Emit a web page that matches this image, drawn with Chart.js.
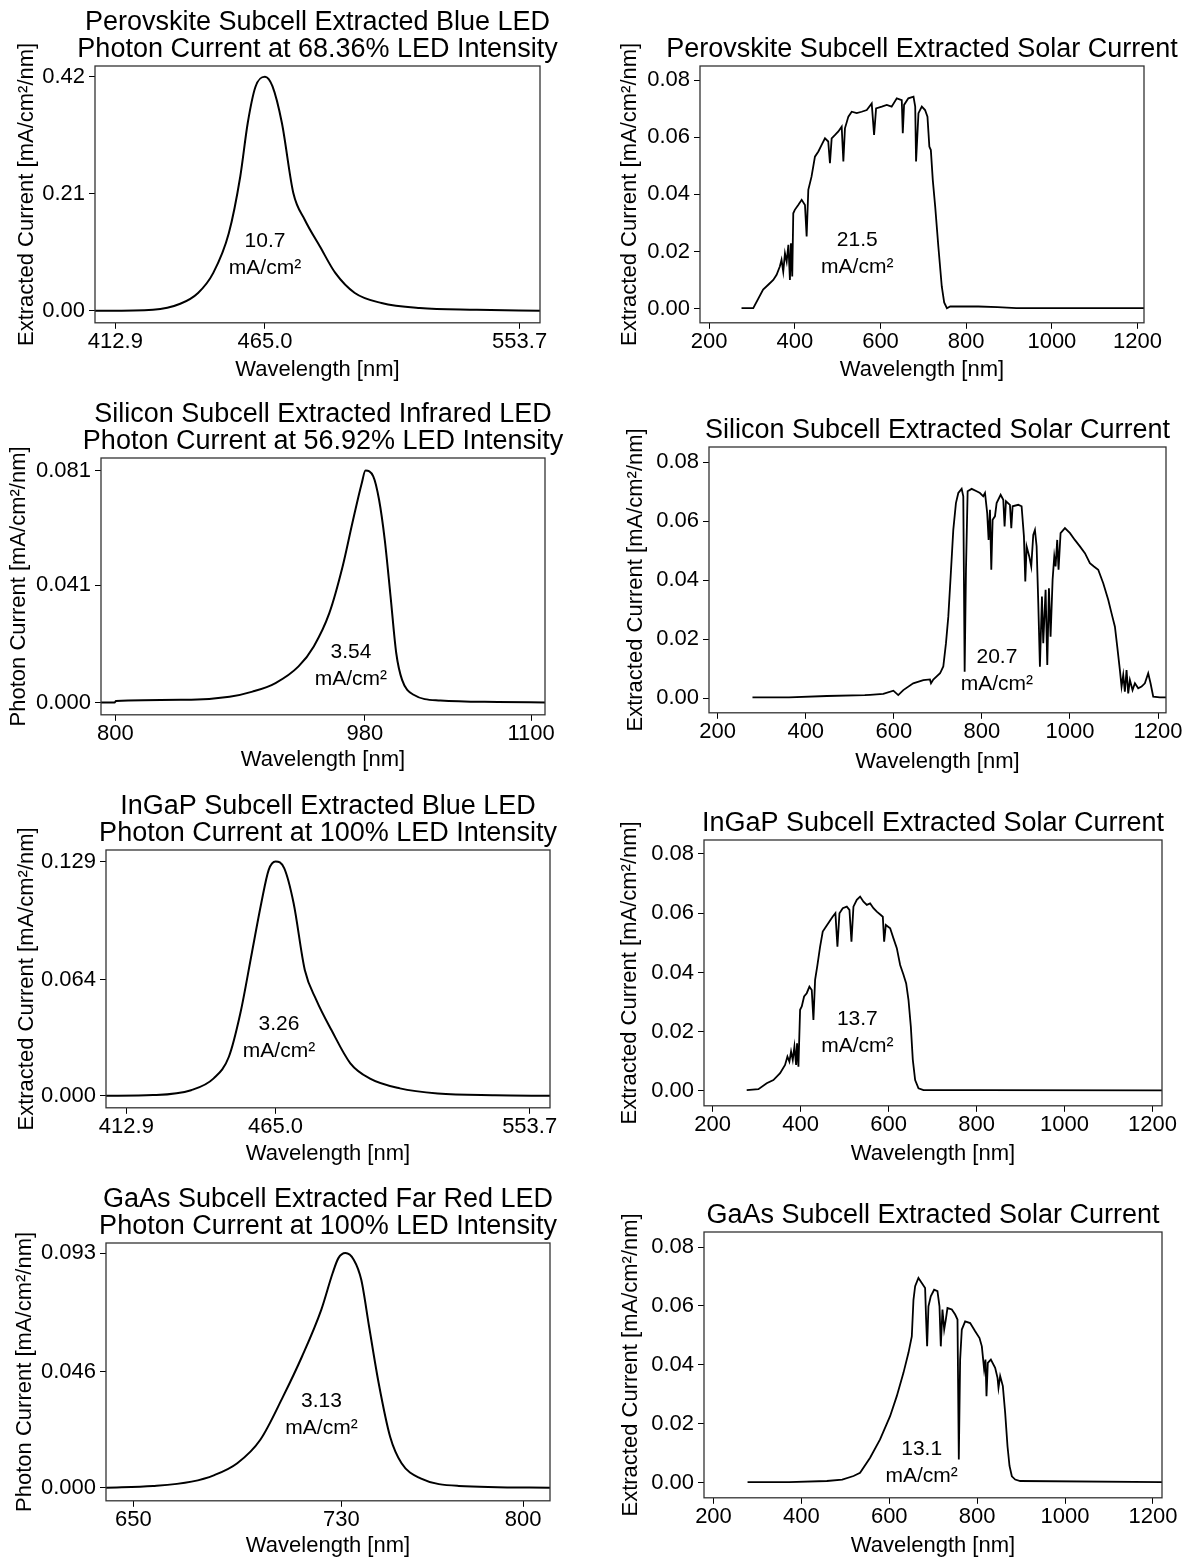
<!DOCTYPE html>
<html>
<head>
<meta charset="utf-8">
<script src="https://cdn.jsdelivr.net/npm/chart.js@4.4.0/dist/chart.umd.min.js"></script>
<style>
  html, body { margin: 0; padding: 0; background: #fff; overflow: hidden; }
  #page { position: relative; width: 1193px; height: 1557px; overflow: hidden; background: #fff; }
  #page canvas { position: absolute; }
</style>
</head>
<body>
<div id="page"></div>
<script>
// ---- data (wavelength in nm, current in mA/cm²/nm) ----
const perovLedWl = [405.8, 426, 435.5, 441.7, 447.0, 452.4, 456.4, 459.0, 461.7, 465.0, 467.6, 470.9, 474.9, 478.9, 484.2, 489.5, 496.3, 505.6, 518.9, 538.8, 560.8];
const perovLedCur = [0, 0.002, 0.0126, 0.032, 0.068, 0.139, 0.241, 0.337, 0.402, 0.42, 0.403, 0.337, 0.211, 0.163, 0.115, 0.068, 0.032, 0.014, 0.005, 0.002, 0];

const perovSolarWl = [275.6, 303, 326, 338, 349.7, 357.5, 365, 369, 373, 377, 381, 385, 388.6, 391, 394, 396.4, 400, 408, 416, 423.7,
  427.6, 431.5, 439, 447, 455, 462.6, 470.4, 478, 482, 486, 494, 501.6, 509.4, 513.3, 517, 525, 532.8, 544.5, 556, 568,
  579.5, 585, 589.7, 603, 614.6, 626, 638, 649.6, 652, 655, 665, 677, 681, 683, 688.6, 696.4, 704, 709.6, 714, 717.5,
  722, 727.6, 735, 743, 748.6, 755, 762.6, 828.6, 873, 917, 1215];
const perovSolarCur = [0.0002, 0.0002, 0.0067, 0.0084, 0.0101, 0.0119, 0.0148, 0.0171, 0.013, 0.0194, 0.0165, 0.0224, 0.0101, 0.0229, 0.0113, 0.0334, 0.0346, 0.0363, 0.0381, 0.0363,
  0.0253, 0.0416, 0.0462, 0.0532, 0.055, 0.0573, 0.0596, 0.0585, 0.0509, 0.0596, 0.0608, 0.062, 0.0637, 0.0515, 0.0631, 0.0672, 0.0689, 0.0684, 0.0689, 0.0695,
  0.0718, 0.0608, 0.0701, 0.0707, 0.0713, 0.0707, 0.0736, 0.073, 0.0614, 0.0713, 0.0736, 0.0742, 0.0707, 0.0515, 0.0684, 0.0707, 0.0695, 0.0672, 0.0567, 0.0555,
  0.0451, 0.0358, 0.0218, 0.0078, 0.0022, 0.0002, 0.0008, 0.0008, 0.0006, 0.0002, 0.0002];

const siliconLedWl = [789.7, 799.5, 800.5, 854.8, 882.4, 899, 915.6, 932.2, 943.2, 954.4, 964, 971, 977.8, 980.5, 986.1, 990.3, 994.4, 998.6, 1002.7, 1006.9, 1015.2, 1034.5, 1076, 1110];
const siliconLedCur = [0, 0, 0.0005, 0.001, 0.002, 0.0038, 0.0068, 0.0126, 0.0196, 0.0312, 0.0475, 0.0626, 0.0766, 0.081, 0.079, 0.0708, 0.0568, 0.037, 0.0172, 0.0079, 0.0027, 0.0007, 0.0002, 0];

const siliconSolarWl = [279, 362, 448, 534, 546, 576, 599, 610, 621.5, 644, 667, 682, 684.4, 689.6, 705, 712.3, 718.4, 723.7, 729, 735,
  741, 746.4, 754, 757.7, 760.8, 763.8, 767.6, 776.7, 788, 795.6, 803, 807, 812, 815.2, 818.3, 821.3, 824.3, 829.6, 833.4, 842.5,
  848.5, 851.5, 854.6, 863.6, 866.7, 869.7, 882.6, 890.1, 895.4, 898.5, 901.5, 907.5, 912, 916.6, 920.4, 924.2, 928, 931.7, 936.3, 939.3,
  944.6, 948.4, 952.2, 955.9, 960.5, 964.3, 967.3, 971, 974, 978.6, 988.5, 1000, 1011, 1022.5, 1033.9, 1045.2, 1054.3, 1064.1, 1075.5, 1086.8,
  1094.4, 1102, 1107.3, 1113.3, 1117.1, 1120.9, 1124.6, 1128.4, 1132.2, 1136, 1142, 1147.4, 1154.9, 1162.5, 1170, 1177.6, 1182.9, 1189, 1204, 1219];
const siliconSolarCur = [0.0003, 0.0003, 0.0008, 0.0011, 0.0012, 0.0015, 0.0026, 0.0011, 0.0028, 0.0051, 0.0062, 0.0064, 0.0051, 0.0064, 0.0085, 0.0108, 0.0187, 0.0277, 0.0413, 0.0571,
  0.0662, 0.0696, 0.071, 0.0685, 0.009, 0.0436, 0.0702, 0.071, 0.0702, 0.0696, 0.0685, 0.0696, 0.0628, 0.0537, 0.0639, 0.0436, 0.0605, 0.0617, 0.0662, 0.069,
  0.0673, 0.0583, 0.0668, 0.0656, 0.0577, 0.0651, 0.0656, 0.0651, 0.0549, 0.0396, 0.0515, 0.0481, 0.0447, 0.0554, 0.0571, 0.0515, 0.0322, 0.0107, 0.0345, 0.0187,
  0.0368, 0.0113, 0.0373, 0.0209, 0.0402, 0.0481, 0.0447, 0.0537, 0.0436, 0.056, 0.0577, 0.056, 0.0537, 0.0515, 0.0492, 0.0458, 0.0447, 0.0436, 0.039, 0.0334,
  0.0288, 0.0243, 0.0175, 0.0096, 0.004, 0.0079, 0.0023, 0.0096, 0.0017, 0.0062, 0.0028, 0.0051, 0.0034, 0.004, 0.0051, 0.0085, 0.0051, 0.0006, 0.0003, 0.0003];

const ingapLedWl = [405.8, 422.2, 435.5, 443.4, 448.7, 452.7, 456.7, 460, 462.6, 465, 468, 471.3, 475.2, 479.2, 484.5, 491.1, 497.8, 508.4, 521.6, 541.6, 560.8];
const ingapLedCur = [0, 0.0004, 0.0031, 0.0096, 0.0215, 0.0454, 0.0785, 0.106, 0.1244, 0.129, 0.1253, 0.106, 0.0693, 0.0528, 0.0362, 0.0179, 0.0096, 0.0041, 0.0013, 0.0003, 0];

const ingapSolarWl = [277.3, 303.9, 322.8, 338, 353.2, 364.5, 369.9, 374.4, 378.2, 382, 385.8, 389.6, 391.8, 394.9, 398.7, 402.5, 407.8, 413.8, 419.9, 425.2,
  429, 432.8, 438.1, 444.2, 450.2, 457.8, 465.4, 473, 479, 483.6, 488.2, 495.7, 504.9, 510.9, 515.5, 520, 527.6, 535.2, 542.8, 550.4,
  558, 565.5, 573.1, 582.2, 586.8, 589.8, 593.6, 603.5, 611, 618.6, 626.2, 633.8, 639.9, 645.2, 650.5, 655, 660.3, 667.9, 679.3, 804, 1221.5];
const ingapSolarCur = [0.0003, 0.0006, 0.0026, 0.0037, 0.006, 0.0088, 0.0116, 0.0099, 0.0133, 0.0105, 0.015, 0.0088, 0.0161, 0.0082, 0.0274, 0.0285, 0.0319, 0.033, 0.0352, 0.0341,
  0.024, 0.0375, 0.0425, 0.0487, 0.0538, 0.0555, 0.0572, 0.0589, 0.06, 0.0487, 0.06, 0.0617, 0.0622, 0.0611, 0.0504, 0.0622, 0.0645, 0.0656, 0.0639, 0.0628,
  0.0633, 0.0617, 0.0605, 0.0594, 0.0588, 0.0504, 0.056, 0.0549, 0.0515, 0.0482, 0.0425, 0.0392, 0.0363, 0.0307, 0.0217, 0.0105, 0.0037, 0.0009, 0.0003, 0.0003, 0.0002];

const gaasLedWl = [639.5, 657.6, 672.4, 681.2, 690, 698.8, 707.6, 714.9, 722.3, 726.7, 728.9, 731.6, 734.8, 737.7, 740.7, 744.4, 748.8, 753.2, 760.5, 775.2, 810.3];
const gaasLedCur = [0, 0.0007, 0.0024, 0.005, 0.0097, 0.0189, 0.0361, 0.052, 0.0705, 0.0851, 0.091, 0.093, 0.0904, 0.0824, 0.0639, 0.0414, 0.0202, 0.0097, 0.0037, 0.0007, 0];

const gaasSolarWl = [277.5, 372, 458, 493, 518.7, 533.6, 556.4, 579.1, 601.9, 617.1, 632.3, 643.7, 651.3, 655.1, 658.9, 666.4, 674, 681.6, 683.9, 686.2,
  689.2, 694.5, 702.1, 709.7, 714.3, 717.3, 721.1, 725, 728.7, 732.5, 742.4, 750, 755.3, 758.3, 761.3, 765.1, 772.7, 784.1, 795.5, 805.4,
  810.7, 816, 819, 821.3, 824.3, 831.2, 841, 846.4, 848.6, 852.4, 858.5, 863.8, 869.1, 873.7, 879, 886.6, 898, 1220.7];
const gaasSolarCur = [0.0002, 0.0002, 0.0006, 0.0011, 0.0023, 0.0034, 0.0085, 0.0147, 0.0226, 0.0294, 0.0373, 0.0441, 0.0497, 0.0621, 0.0667, 0.0695, 0.0678, 0.0661, 0.0554, 0.0463,
  0.0599, 0.0633, 0.0655, 0.065, 0.0599, 0.0463, 0.0588, 0.052, 0.0554, 0.0593, 0.0588, 0.0571, 0.0554, 0.0079, 0.0418, 0.052, 0.0548, 0.0542, 0.0514, 0.0491,
  0.0463, 0.0384, 0.0418, 0.0294, 0.0407, 0.0418, 0.039, 0.0356, 0.0322, 0.0362, 0.0328, 0.0237, 0.0124, 0.0057, 0.0022, 0.0011, 0.0006, 0.0002];

// tick labels
const blueLedXTicks = [412.9, 465.0, 553.7];
const irLedXTicks = [800, 980, 1100];
const farRedLedXTicks = [650, 730, 800];
const solarXTicks = [200, 400, 600, 800, 1000, 1200];
const perovLedYTicks = [0, 0.21, 0.42];
const siliconLedYTicks = [0, 0.041, 0.081];
const ingapLedYTicks = [0, 0.064, 0.129];
const gaasLedYTicks = [0, 0.046, 0.093];
const solarYTicks = [0, 0.02, 0.04, 0.06, 0.08];

const FONT = "'Liberation Sans', Arial, Helvetica, sans-serif";
const LW = 100;   // room for y ticks + y title
const TP = 66;    // room for the panel title
const RP = 45;    // right margin so edge tick labels fit

Chart.defaults.font.family = FONT;
Chart.defaults.color = '#000';

const extracted = 'Extracted Current [mA/cm²/nm]';
const photon = 'Photon Current [mA/cm²/nm]';

const panels = [
  { box: [95, 66, 540, 323], title: ['Perovskite Subcell Extracted Blue LED', 'Photon Current at 68.36% LED Intensity'],
    yLabel: extracted, wl: perovLedWl, cur: perovLedCur, smooth: true,
    xMin: 405.8, xMax: 560.8, yMin: -0.0215, yMax: 0.4392, xTicks: blueLedXTicks, xDec: 1, yTicks: perovLedYTicks, yDec: 2,
    note: '10.7', noteAt: [465, 0.101], yGap: 68, xGap: 47 },
  { box: [700, 66, 1144, 323], title: ['Perovskite Subcell Extracted Solar Current'],
    yLabel: extracted, wl: perovSolarWl, cur: perovSolarCur, smooth: false,
    xMin: 178.7, xMax: 1215, yMin: -0.0049, yMax: 0.0849, xTicks: solarXTicks, xDec: 0, yTicks: solarYTicks, yDec: 2,
    note: '21.5', noteAt: [545.7, 0.0193], yGap: 70, xGap: 47 },
  { box: [101, 458, 545, 715], title: ['Silicon Subcell Extracted Infrared LED', 'Photon Current at 56.92% LED Intensity'],
    yLabel: photon, wl: siliconLedWl, cur: siliconLedCur, smooth: true,
    xMin: 789.7, xMax: 1110, yMin: -0.0043, yMax: 0.0854, xTicks: irLedXTicks, xDec: 0, yTicks: siliconLedYTicks, yDec: 3,
    note: '3.54', noteAt: [970, 0.0129], yGap: 82, xGap: 45 },
  { box: [709, 447, 1166, 713], title: ['Silicon Subcell Extracted Solar Current'],
    yLabel: extracted, wl: siliconSolarWl, cur: siliconSolarCur, smooth: false,
    xMin: 180.3, xMax: 1218, yMin: -0.0049, yMax: 0.0852, xTicks: solarXTicks, xDec: 0, yTicks: solarYTicks, yDec: 2,
    note: '20.7', noteAt: [834, 0.0093], yGap: 73, xGap: 49 },
  { box: [106, 850, 550, 1108], title: ['InGaP Subcell Extracted Blue LED', 'Photon Current at 100% LED Intensity'],
    yLabel: extracted, wl: ingapLedWl, cur: ingapLedCur, smooth: true,
    xMin: 405.8, xMax: 560.8, yMin: -0.0066, yMax: 0.1353, xTicks: blueLedXTicks, xDec: 1, yTicks: ingapLedYTicks, yDec: 3,
    note: '3.26', noteAt: [466.2, 0.0318], yGap: 79, xGap: 46 },
  { box: [704, 840, 1162, 1106], title: ['InGaP Subcell Extracted Solar Current'],
    yLabel: extracted, wl: ingapSolarWl, cur: ingapSolarCur, smooth: false,
    xMin: 180.2, xMax: 1221.6, yMin: -0.005, yMax: 0.0847, xTicks: solarXTicks, xDec: 0, yTicks: solarYTicks, yDec: 2,
    note: '13.7', noteAt: [528.8, 0.0195], yGap: 74, xGap: 48 },
  { box: [106, 1243, 550, 1501], title: ['GaAs Subcell Extracted Far Red LED', 'Photon Current at 100% LED Intensity'],
    yLabel: photon, wl: gaasLedWl, cur: gaasLedCur, smooth: true,
    xMin: 639.5, xMax: 810.3, yMin: -0.0052, yMax: 0.097, xTicks: farRedLedXTicks, xDec: 0, yTicks: gaasLedYTicks, yDec: 3,
    note: '3.13', noteAt: [722.4, 0.0288], yGap: 81, xGap: 45 },
  { box: [704, 1232, 1162, 1498], title: ['GaAs Subcell Extracted Solar Current'],
    yLabel: extracted, wl: gaasSolarWl, cur: gaasSolarCur, smooth: false,
    xMin: 178.4, xMax: 1220.7, yMin: -0.0051, yMax: 0.0851, xTicks: solarXTicks, xDec: 0, yTicks: solarYTicks, yDec: 2,
    note: '13.1', noteAt: [673.7, 0.0068], yGap: 73, xGap: 48 }
];

function decorations(p) {
  return {
    id: 'decorations',
    afterDraw(chart) {
      const { ctx, chartArea: a, scales } = chart;
      ctx.save();
      // axes frame
      ctx.strokeStyle = '#333';
      ctx.lineWidth = 1.3;
      ctx.strokeRect(a.left, a.top, a.right - a.left, a.bottom - a.top);
      // panel title
      ctx.fillStyle = '#000';
      ctx.textAlign = 'center';
      ctx.textBaseline = 'alphabetic';
      ctx.font = `27px ${FONT}`;
      const cx = (a.left + a.right) / 2;
      p.title.forEach((line, i) => {
        ctx.fillText(line, cx, a.top - 9 - (p.title.length - 1 - i) * 27.5);
      });
      // integrated current note
      const nx = scales.x.getPixelForValue(p.noteAt[0]);
      const ny = scales.y.getPixelForValue(p.noteAt[1]);
      ctx.font = `21px ${FONT}`;
      ctx.textBaseline = 'middle';
      ctx.fillText(p.note, nx, ny - 13.5);
      ctx.fillText('mA/cm²', nx, ny + 13.5);
      ctx.restore();
    }
  };
}

function makePanel(p) {
  const [l, t, r, b] = p.box;
  const bh = p.xGap + 13.2;
  const w = (r - l) + LW + RP;
  const h = (b - t) + TP + bh;
  const canvas = document.createElement('canvas');
  canvas.width = Math.round(w);
  canvas.height = Math.round(h);
  canvas.style.left = (l - LW) + 'px';
  canvas.style.top = (t - TP) + 'px';
  canvas.style.width = canvas.width + 'px';
  canvas.style.height = canvas.height + 'px';
  document.getElementById('page').appendChild(canvas);

  new Chart(canvas, {
    type: 'line',
    data: {
      datasets: [{
        data: p.wl.map((x, i) => ({ x, y: p.cur[i] })),
        borderColor: '#000',
        borderWidth: p.smooth ? 2 : 1.8,
        pointRadius: 0,
        fill: false,
        tension: p.smooth ? 0.4 : 0,
        cubicInterpolationMode: p.smooth ? 'monotone' : 'default'
      }]
    },
    options: {
      responsive: false,
      animation: false,
      devicePixelRatio: 1,
      layout: { padding: { top: TP, right: RP, left: 0, bottom: 0 } },
      plugins: { legend: { display: false }, tooltip: { enabled: false }, title: { display: false } },
      scales: {
        x: {
          type: 'linear',
          min: p.xMin,
          max: p.xMax,
          afterFit: (s) => { s.height = bh; },
          afterBuildTicks: (s) => { s.ticks = p.xTicks.map((v) => ({ value: v })); },
          ticks: { autoSkip: false, maxRotation: 0, color: '#000', font: { size: 22 }, padding: 0,
            callback: (v) => Number(v).toFixed(p.xDec) },
          grid: { drawOnChartArea: false, drawTicks: true, tickLength: 6, color: '#000' },
          border: { display: false },
          title: { display: true, text: 'Wavelength [nm]', color: '#000', font: { size: 22 }, padding: 0 }
        },
        y: {
          min: p.yMin,
          max: p.yMax,
          afterFit: (s) => { s.width = LW; },
          afterBuildTicks: (s) => { s.ticks = p.yTicks.map((v) => ({ value: v })); },
          ticks: { color: '#000', font: { size: 22 }, padding: 4,
            callback: (v) => Number(v).toFixed(p.yDec) },
          grid: { drawOnChartArea: false, drawTicks: true, tickLength: 6, color: '#000' },
          border: { display: false },
          title: { display: true, text: p.yLabel, color: '#000', font: { size: 22 },
            padding: { top: Math.max(0, LW - p.yGap - 13.2), bottom: 0 } }
        }
      }
    },
    plugins: [decorations(p)]
  });
}

panels.forEach(makePanel);
</script>
</body>
</html>
